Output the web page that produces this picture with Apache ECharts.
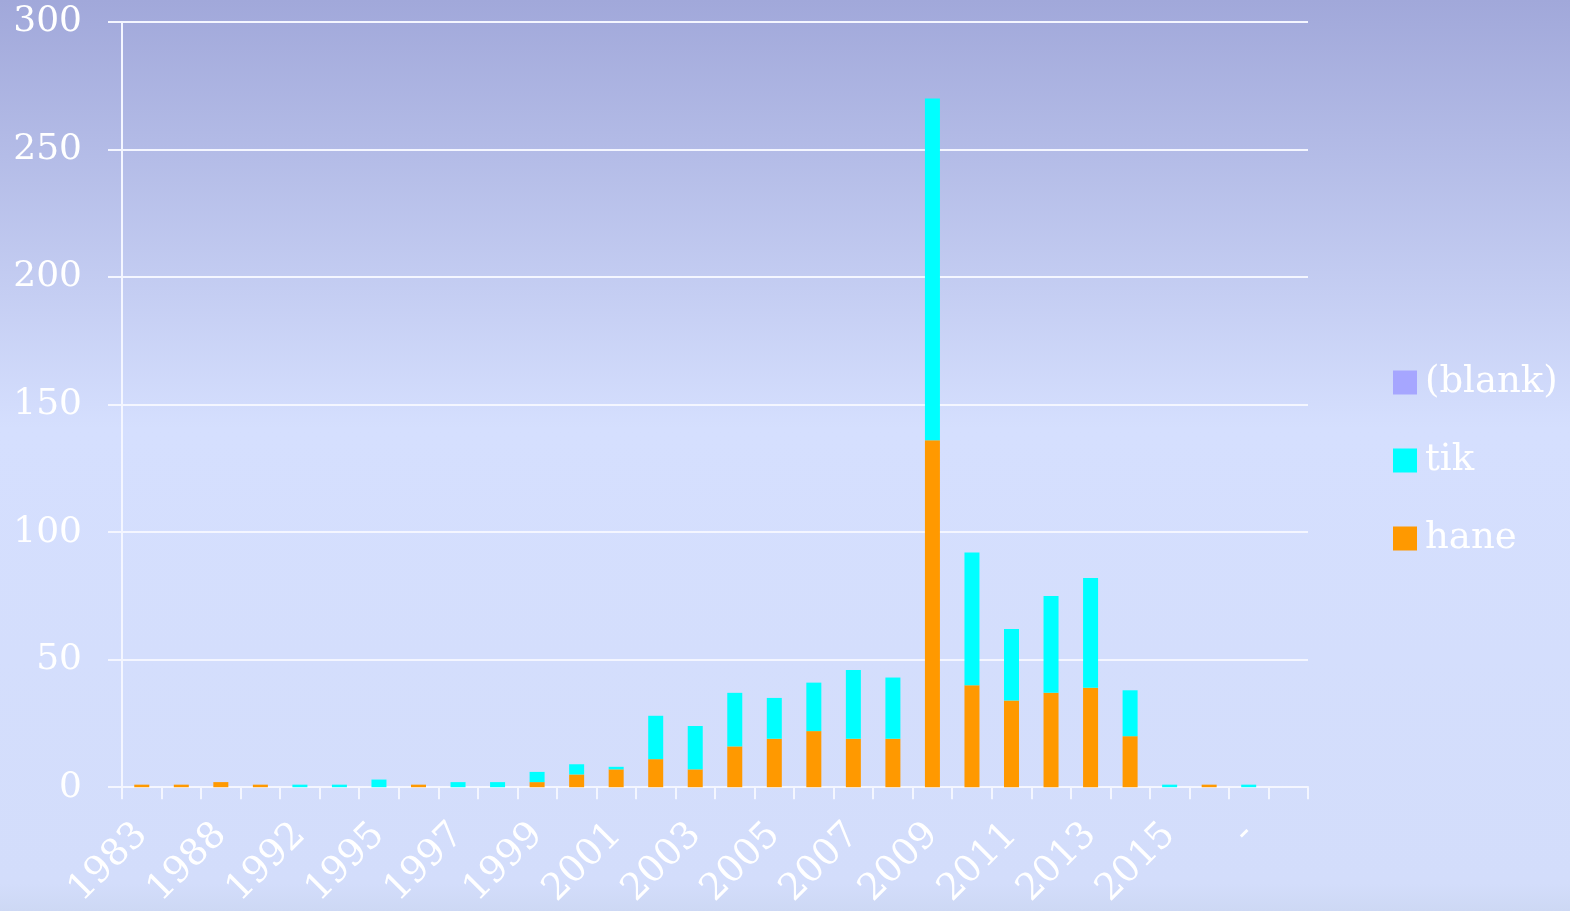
<!DOCTYPE html>
<html>
<head>
<meta charset="utf-8">
<script src="https://cdn.jsdelivr.net/npm/echarts@6/dist/echarts.min.js"></script>
<style>
html,body{margin:0;padding:0;width:1570px;height:911px;overflow:hidden;}
#chart{width:1570px;height:911px;}
</style>
</head>
<body>
<div id="chart"></div>
<script>
const categories = ['1983','1986','1988','1990','1992','1994','1995','1996','1997','1998','1999','2000','2001','2002','2003','2004','2005','2006','2007','2008','2009','2010','2011','2012','2013','2014','2015','2016','-','(blank)'];
const hane  = [1,1,2,1,0,0,0,1,0,0,2,5,7,11,7,16,19,22,19,19,136,40,34,37,39,20,0,1,0,0];
const tik   = [0,0,0,0,1,1,3,0,2,2,4,4,1,17,17,21,16,19,27,24,134,52,28,38,43,18,1,0,1,0];
const blank = [0,0,0,0,0,0,0,0,0,0,0,0,0,0,0,0,0,0,0,0,0,0,0,0,0,0,0,0,0,0];
const yTicks = [0,50,100,150,200,250,300];
const seriesNames = ['(blank)','tik','hane'];

const font = 'DejaVu Serif';
const chart = echarts.init(document.getElementById('chart'));
chart.setOption({
  animation:false,
  backgroundColor:{type:'linear',x:0,y:0,x2:0,y2:1,colorStops:[
    {offset:0,color:'#a1a8da'},{offset:0.47,color:'#d5dffe'},{offset:0.97,color:'#d3ddfb'},{offset:1,color:'#cdd8f4'}]},
  grid:{left:122,right:262,top:22,bottom:123,containLabel:false},
  legend:{
    data:seriesNames, orient:'vertical', left:1393, top:364, padding:0,
    itemWidth:24, itemHeight:24, itemGap:41, icon:'rect',
    textStyle:{color:'#ffffff',fontFamily:font,fontSize:37,padding:[0,0,0,3]}
  },
  xAxis:{
    type:'category', data:categories,
    axisLine:{lineStyle:{color:'#f4f6ff',width:2}},
    axisTick:{show:true,interval:0,length:12,alignWithLabel:false,lineStyle:{color:'#f4f6ff',width:2}},
    axisLabel:{interval:1,rotate:45,color:'#ffffff',fontFamily:font,fontSize:37,margin:42}
  },
  yAxis:{
    type:'value', min:yTicks[0], max:yTicks[yTicks.length-1], interval:50,
    axisLine:{show:true,lineStyle:{color:'#f4f6ff',width:2}},
    axisTick:{show:true,inside:false,length:14,lineStyle:{color:'#f4f6ff',width:2}},
    axisLabel:{color:'#ffffff',fontFamily:font,fontSize:36,margin:40},
    splitLine:{show:true,lineStyle:{color:'#f4f6ff',width:2}}
  },
  series:[
    {name:'hane',type:'bar',stack:'s',data:hane,barWidth:15,itemStyle:{color:'#ff9900'}},
    {name:'tik',type:'bar',stack:'s',data:tik,barWidth:15,itemStyle:{color:'#00ffff'}},
    {name:'(blank)',type:'bar',stack:'s',data:blank,barWidth:15,itemStyle:{color:'#a6a6ff'}}
  ]
});
</script>
</body>
</html>
